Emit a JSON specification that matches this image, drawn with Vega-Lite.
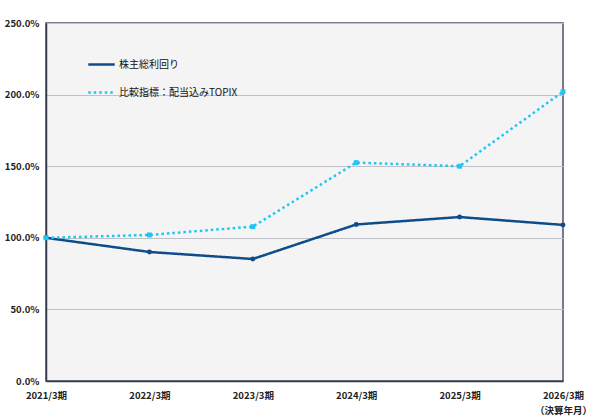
{
  "$schema": "https://vega.github.io/schema/vega-lite/v6.json",
  "width": 517,
  "height": 358,
  "autosize": "none",
  "padding": {"left": 46, "top": 23, "right": 35, "bottom": 39},
  "background": "#ffffff",
  "config": {
    "font": "Noto Sans CJK JP",
    "view": {"stroke": "#4a5060", "strokeWidth": 1.5, "fill": "#f4f4f4"}
  },
  "data": {
    "values": [
      {"period": "2021/3期", "series": "株主総利回り", "value": 100},
      {"period": "2022/3期", "series": "株主総利回り", "value": 90.1},
      {"period": "2023/3期", "series": "株主総利回り", "value": 85.2},
      {"period": "2024/3期", "series": "株主総利回り", "value": 109.3},
      {"period": "2025/3期", "series": "株主総利回り", "value": 114.5},
      {"period": "2026/3期", "series": "株主総利回り", "value": 109},
      {"period": "2021/3期", "series": "比較指標：配当込みTOPIX", "value": 100},
      {"period": "2022/3期", "series": "比較指標：配当込みTOPIX", "value": 102},
      {"period": "2023/3期", "series": "比較指標：配当込みTOPIX", "value": 107.8},
      {"period": "2024/3期", "series": "比較指標：配当込みTOPIX", "value": 152.5},
      {"period": "2025/3期", "series": "比較指標：配当込みTOPIX", "value": 150},
      {"period": "2026/3期", "series": "比較指標：配当込みTOPIX", "value": 202}
    ]
  },
  "encoding": {
    "x": {
      "field": "period",
      "type": "ordinal",
      "scale": {"type": "point", "padding": 0},
      "axis": {
        "title": null,
        "labelAngle": 0,
        "labelFontSize": 9.5,
        "labelFontWeight": "bold",
        "labelColor": "#222222",
        "labelPadding": 9,
        "labelOverlap": false,
        "labelFlush": false,
        "labelBound": false,
        "labelExpr": "datum.value == '2026/3期' ? ['2026/3期', '（決算年月）'] : datum.value",
        "labelLineHeight": 15,
        "ticks": false,
        "domainColor": "#333a4a",
        "domainWidth": 1.5,
        "grid": false
      }
    },
    "y": {
      "field": "value",
      "type": "quantitative",
      "scale": {"domain": [0, 250], "nice": false},
      "axis": {
        "title": null,
        "values": [0, 50, 100, 150, 200, 250],
        "labelExpr": "format(datum.value, '.1f') + '%'",
        "labelFontSize": 9.5,
        "labelFontWeight": "bold",
        "labelColor": "#222222",
        "labelPadding": 7,
        "ticks": false,
        "domainColor": "#333a4a",
        "domainWidth": 1.5,
        "gridColor": "#bfc1c6",
        "gridWidth": 1.2
      }
    }
  },
  "layer": [
    {
      "mark": {"type": "line", "strokeWidth": 2.5},
      "encoding": {
        "color": {
          "field": "series",
          "type": "nominal",
          "scale": {
            "domain": ["株主総利回り", "比較指標：配当込みTOPIX"],
            "range": ["#0f4c8a", "#1ec6f6"]
          },
          "legend": {
            "title": null,
            "orient": "none",
            "legendX": 41,
            "legendY": 27,
            "symbolType": "stroke",
            "symbolSize": 700,
            "symbolStrokeWidth": 2.5,
            "labelFontSize": 10,
            "labelFont": "Noto Sans CJK JP",
            "labelColor": "#111111",
            "labelOffset": 3,
            "rowPadding": 8
          }
        },
        "strokeDash": {
          "field": "series",
          "type": "nominal",
          "scale": {
            "domain": ["株主総利回り", "比較指標：配当込みTOPIX"],
            "range": [[1, 0], [2.5, 3]]
          },
          "legend": null
        }
      }
    },
    {
      "mark": {"type": "point", "filled": true, "opacity": 1, "size": 24, "strokeWidth": 0},
      "encoding": {
        "fill": {
          "condition": {"test": "datum.series == '株主総利回り'", "value": "#0f4c8a"},
          "value": "#1ec6f6"
        },
        "shape": {
          "condition": {"test": "datum.series == '株主総利回り'", "value": "circle"},
          "value": "square"
        }
      }
    }
  ]
}
